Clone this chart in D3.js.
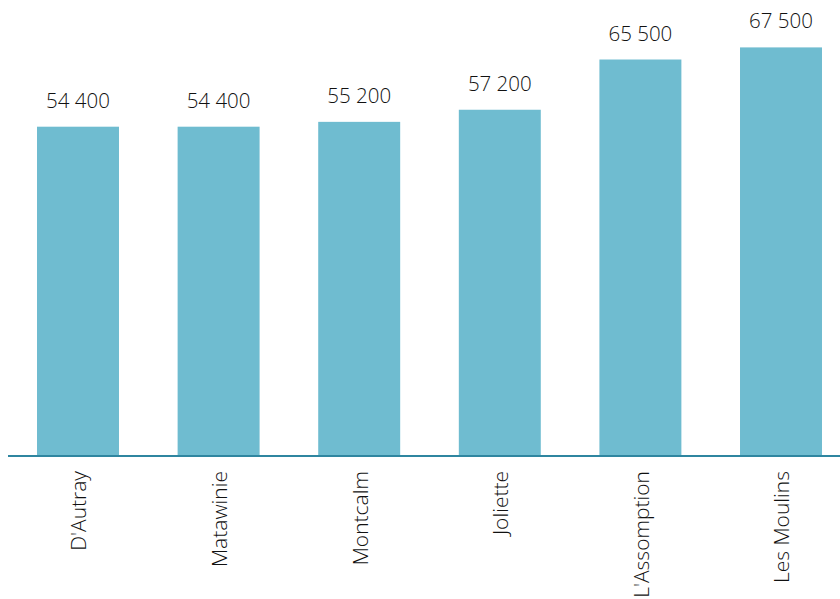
<!DOCTYPE html>
<html><head><meta charset="utf-8">
<script src="https://cdn.jsdelivr.net/npm/d3@7"></script>
<style>body{margin:0;background:#fff}svg{display:block}</style>
</head><body><svg id="c" width="840" height="599"></svg>
<script>
const categories = ["D'Autray","Matawinie","Montcalm","Joliette","L'Assomption","Les Moulins"];
const values = [54400,54400,55200,57200,65500,67500];
const valueLabels = ["54 400","54 400","55 200","57 200","65 500","67 500"];

const svg = d3.select("#c");
const baseY = 456;
const x = d3.scaleBand().domain(categories).range([7.7, 851.3]).paddingInner(0.417).paddingOuter(0.2085);
const y = d3.scaleLinear().domain([0, 75000]).range([baseY, 2]);

svg.selectAll("rect.bar").data(values).join("rect")
  .attr("class","bar")
  .attr("x",(d,i)=>x(categories[i]))
  .attr("width",x.bandwidth())
  .attr("y",d=>y(d))
  .attr("height",d=>baseY-y(d))
  .attr("fill","#6fbcd0");

svg.selectAll("text.val").data(values).join("text")
  .attr("class","val")
  .attr("x",(d,i)=>x(categories[i])+x.bandwidth()/2)
  .attr("y",d=>y(d)-19)
  .attr("text-anchor","middle")
  .attr("font-family","'Open Sans', sans-serif")
  .attr("font-weight",300)
  .attr("font-size",20.5)
  .attr("fill","#111")
  .text((d,i)=>valueLabels[i]);

svg.append("line").attr("x1",8).attr("x2",840).attr("y1",baseY).attr("y2",baseY)
  .attr("stroke","#2f86a0").attr("stroke-width",2);

svg.selectAll("text.cat").data(categories).join("text")
  .attr("class","cat")
  .attr("transform",d=>`translate(${x(d)+x.bandwidth()/2+1},471) rotate(-90)`)
  .attr("text-anchor","end")
  .attr("dy","0.35em")
  .attr("font-family","'Open Sans', sans-serif")
  .attr("font-weight",300)
  .attr("font-size",21)
  .attr("fill","#111")
  .text(d=>d);
</script></body></html>
